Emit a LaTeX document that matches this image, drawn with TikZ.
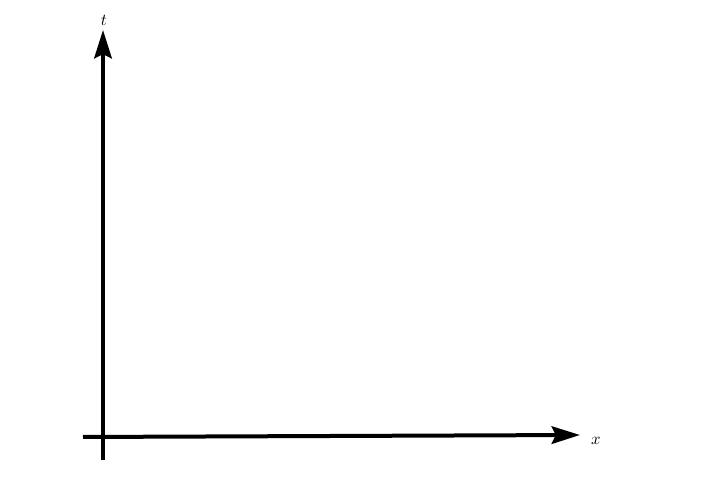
\documentclass[tikz,border=0pt]{standalone}
\usepackage{amsmath}
\usetikzlibrary{arrows.meta, positioning}

\begin{document}
\begin{tikzpicture}[x=0.6pt, y=-0.6pt, axis/.style={line width=2.4pt, -{Stealth[length=17pt, width=10.5pt, inset=2.5pt]}}]
\useasboundingbox (0,0) rectangle (722,481);

                        % Ends of the axes
                        \coordinate (t0) at (103,460);
                        \coordinate (t1) at (103,30);
                        \coordinate (x0) at (83,437);
                        \coordinate (x1) at (580,435);

                        % Axis labels
                        \node (tlabel) at (104,20) {$t$};
                        \node (xlabel) at (596,441) {$x$};

                        % Axes
                        \draw[axis] (t0) to (t1);
                        \draw[axis] (x0) to (x1);

\end{tikzpicture}
\end{document}
